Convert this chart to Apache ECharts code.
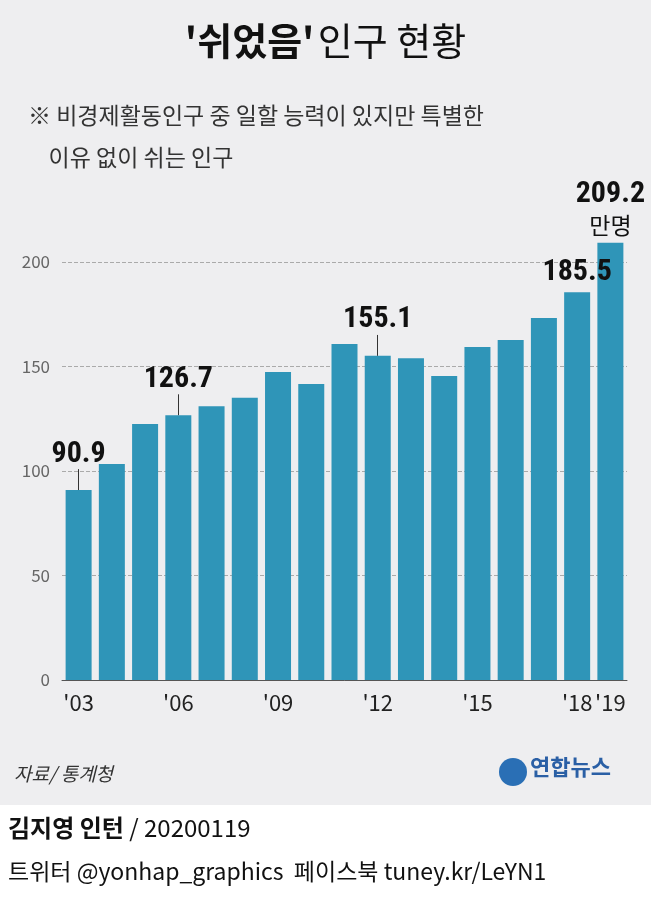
<!DOCTYPE html><html><head><meta charset="utf-8">
<script src="https://cdn.jsdelivr.net/npm/echarts@6/dist/echarts.min.js"></script>
<style>body{margin:0}#c{width:651px;height:897px}</style></head><body><div id="c"></div>
<script>
const categories=["'03","'04","'05","'06","'07","'08","'09","'10","'11","'12","'13","'14","'15","'16","'17","'18","'19"];
const values=[90.9,103.3,122.5,126.7,131,135,147.4,141.6,160.8,155.1,154,145.5,159.3,162.7,173.2,185.5,209.2];
const shownTicks=["'03","'06","'09","'12","'15","'18","'19"];
const labelled={0:'90.9',3:'126.7',9:'155.1',15:'185.5',16:'209.2'};
const F='"Noto Sans CJK KR","Noto Sans",sans-serif';
const chart=echarts.init(document.getElementById('c'));
const data=values.map((v,i)=>{
  const o={value:v};
  if(labelled[i]!==undefined){
    const lead=(i===0||i===3||i===9);
    o.label={show:true,position:'top',distance:lead?20:4,
      formatter:i===16?'{a|209.2}\n{b|만명}':'{a|'+labelled[i]+'}',
      rich:{a:{fontSize:30,fontWeight:'bold',color:'#111',fontFamily:'"Liberation Sans Narrow","Roboto Condensed",'+F,lineHeight:32},
            b:{fontSize:23,color:'#111',fontFamily:F,lineHeight:28,align:'center'}}};
  }
  return o;
});
const leads=[0,3,9].map(i=>[{coord:[i,values[i]],symbol:'none'},{coord:[i,values[i]+10],symbol:'none'}]);
chart.setOption({
  backgroundColor:'#ffffff',
  graphic:[
    {type:'rect',left:0,top:0,shape:{width:651,height:805},style:{fill:'#eeeef0'},z:-10},
    {type:'text',left:'center',top:22,style:{text:"{b|'쉬었음'} {n|인구 현황}",rich:{b:{fontSize:38,fontWeight:'bold',fill:'#111',fontFamily:F},n:{fontSize:38,fill:'#111',fontFamily:F}}}},
    {type:'text',left:28,top:94,style:{text:'※ 비경제활동인구 중 일할 능력이 있지만 특별한\n    이유 없이 쉬는 인구',fontSize:23,lineHeight:42,fill:'#333',fontFamily:F}},
    {type:'text',left:14,top:764,style:{text:'자료/ 통계청',fontSize:19,fontStyle:'italic',fill:'#333',fontFamily:F}},
    {type:'circle',shape:{cx:513,cy:772,r:14},style:{fill:'#2a6fb5'}},
    {type:'text',left:530,top:756,style:{text:'연합뉴스',fontSize:22,fontWeight:'bold',fill:'#2a5fa5',fontFamily:F}},
    {type:'text',left:8,top:816,style:{text:'{b|김지영 인턴} / 20200119',rich:{b:{fontSize:24,fontWeight:'bold',fill:'#111',fontFamily:F}},fontSize:24,fill:'#111',fontFamily:F}},
    {type:'text',left:8,top:860,style:{text:'트위터 @yonhap_graphics  페이스북 tuney.kr/LeYN1',fontSize:23,fill:'#111',fontFamily:F}}
  ],
  grid:{left:62,right:24,top:262,bottom:217},
  xAxis:{type:'category',data:categories,axisTick:{show:false},
    axisLine:{lineStyle:{color:'#555',width:1}},
    axisLabel:{interval:0,color:'#222',fontSize:22,fontFamily:'"Liberation Sans Narrow",'+F,margin:12,
      formatter:v=>shownTicks.includes(v)?v:''}},
  yAxis:{type:'value',min:0,max:200,interval:50,
    axisLabel:{color:'#666',fontSize:17,fontFamily:F,margin:12},
    splitLine:{lineStyle:{color:'#aaa',type:'dashed'}},axisLine:{show:false}},
  series:[{type:'bar',data:data,barWidth:26,clip:false,itemStyle:{color:'#2f95b8'},
    markLine:{silent:true,symbol:'none',label:{show:false},lineStyle:{color:'#333',width:1,type:'solid'},data:leads}}]
});
</script></body></html>
